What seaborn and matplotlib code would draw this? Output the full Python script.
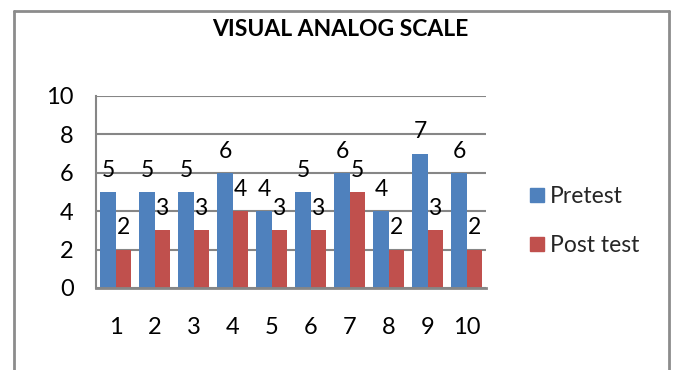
import matplotlib
matplotlib.use("Agg")
import matplotlib.pyplot as plt
from matplotlib.lines import Line2D
import pandas as pd
import seaborn as sns

# Visual analog scale scores per subject
subjects = ["1", "2", "3", "4", "5", "6", "7", "8", "9", "10"]
pretest = [5, 5, 5, 6, 4, 5, 6, 4, 7, 6]
posttest = [2, 3, 3, 4, 3, 3, 5, 2, 3, 2]
series_names = ["Pretest", "Post test"]
colors = ["#4F81BD", "#C0504D"]
y_ticks = [0, 2, 4, 6, 8, 10]

df = pd.DataFrame({
    "subject": subjects * 2,
    "score": pretest + posttest,
    "series": [series_names[0]] * len(subjects) + [series_names[1]] * len(subjects),
})

sns.set_theme(style="white")
plt.rcParams["font.family"] = ["Lato", "DejaVu Sans"]

W, H = 673, 370
fig = plt.figure(figsize=(W / 100, H / 100), dpi=100)
fig.patch.set_facecolor("white")

# outer chart frame (left, top, right edges)
frame_col = "#8C8C8C"
fx0, fx1, fy1 = 14 / W, 669 / W, 1 - 11 / H
for xs, ys in [((fx0, fx0), (-0.05, fy1)), ((fx0, fx1), (fy1, fy1)), ((fx1, fx1), (fy1, -0.05))]:
    fig.add_artist(Line2D(xs, ys, transform=fig.transFigure, color=frame_col, lw=2))

ax_l, ax_r, ax_t, ax_b = 96, 486, 96, 288
ax = fig.add_axes([ax_l / W, 1 - ax_b / H, (ax_r - ax_l) / W, (ax_b - ax_t) / H])

sns.barplot(data=df, x="subject", y="score", hue="series", palette=colors,
            width=0.77, gap=0, saturation=1, ax=ax, legend=False, errorbar=None,
            linewidth=0, edgecolor="none")

for cont in ax.containers:
    ax.bar_label(cont, fmt="%d", padding=8, fontsize=16.5, color="black")

ax.set_ylim(0, 10)
ax.set_xlim(-0.5, len(subjects) - 0.5)
ax.set_yticks(y_ticks)
ax.set_yticklabels([str(t) for t in y_ticks])
ax.set_xlabel("")
ax.set_ylabel("")
grid_col = "#868686"
ax.yaxis.grid(True, color=grid_col, lw=1.5)
ax.set_axisbelow(True)
for s in ["top", "right"]:
    ax.spines[s].set_visible(False)
ax.spines["left"].set_color(grid_col)
ax.spines["left"].set_linewidth(1.5)
ax.spines["bottom"].set_color(grid_col)
ax.spines["bottom"].set_linewidth(2)
ax.tick_params(axis="y", length=0, pad=16, labelsize=17, colors="black")
ax.tick_params(axis="x", length=0, pad=21, labelsize=17, colors="black")

fig.text(340 / W, 1 - 30 / H, "VISUAL ANALOG SCALE", ha="center", va="center",
         fontsize=16.5, fontweight="bold", color="black")

handles = [Line2D([], [], marker="s", linestyle="", markersize=10,
                  markerfacecolor=c, markeredgecolor=c) for c in colors]
fig.legend(handles, series_names, loc="center left",
           bbox_to_anchor=(516 / W, 1 - 221 / H), frameon=False, fontsize=16.5,
           handlelength=0.8, handletextpad=0.2, labelspacing=1.25, borderpad=0)

fig.savefig("out.png", dpi=100)
